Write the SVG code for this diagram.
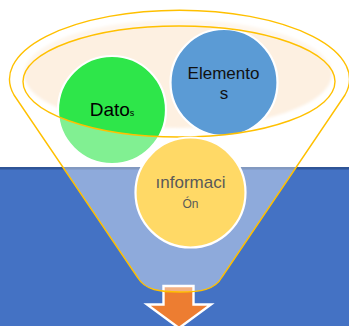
<svg xmlns="http://www.w3.org/2000/svg" width="349" height="326" viewBox="0 0 349 326">
  <defs>
    <style>
      .node { stroke: #FFFFFF; stroke-width: 2.2; }
      .lbl { font-family: "Liberation Sans", Arial, sans-serif; text-anchor: middle; }
      .rim { fill: none; stroke: #FFC000; stroke-width: 1.4; }
    </style>
    <filter id="soft" x="-10%" y="-10%" width="120%" height="120%">
      <feGaussianBlur stdDeviation="1.5"/>
    </filter>
  </defs>

  <rect x="0" y="0" width="349" height="326" fill="#FFFFFF"/>
  <rect x="0" y="167" width="349" height="159" fill="#4472C4"/>
  <rect x="0" y="167" width="349" height="2.5" fill="#2F5597"/>

  <g id="connectors">
    <polygon id="arrow" points="163.5,286 193.5,286 193.5,304.5 211,304.5 179,328 147,304.5 163.5,304.5" fill="#ED7D31" stroke="#FFFFFF" stroke-width="2.4" stroke-linejoin="miter"/>
  </g>

  <ellipse id="bowl" cx="178" cy="74" rx="154" ry="54" fill="#FDF0E1" filter="url(#soft)"/>

  <g id="datos">
    <circle class="node" cx="112" cy="110" r="54" fill="#2EE64A"/>
    <text class="lbl" x="112" y="115.5" font-size="19" fill="#000000">Dato<tspan font-size="9">s</tspan></text>
  </g>

  <g id="elementos">
    <circle class="node" cx="224" cy="82.5" r="53.5" fill="#5B9BD5"/>
    <text class="lbl" x="223.5" y="79.3" font-size="17" fill="#111111">Elemento</text>
    <text class="lbl" x="224" y="99" font-size="17" fill="#111111">s</text>
  </g>

  <g id="funnel">
    <path d="M 14,95 A 170 69 0 1 1 345,95 L 222,277 C 215,290 200,292 180,292 C 160,292 145,290 138,278 Z M 23,81.5 A 156 55.5 0 1 0 335,81.5 A 156 55.5 0 1 0 23,81.5 Z" fill="#FFFFFF" fill-opacity="0.4" fill-rule="evenodd" stroke="#FFC000" stroke-width="1.4" stroke-linejoin="round"/>
  </g>

  <g id="informacion">
    <circle class="node" cx="190.5" cy="192.5" r="55" fill="#FFD966"/>
    <text class="lbl" x="190.5" y="187.5" font-size="17" fill="#595959">ınformaci</text>
    <text class="lbl" x="190.5" y="208.3" font-size="12" fill="#595959">Ón</text>
  </g>
</svg>
